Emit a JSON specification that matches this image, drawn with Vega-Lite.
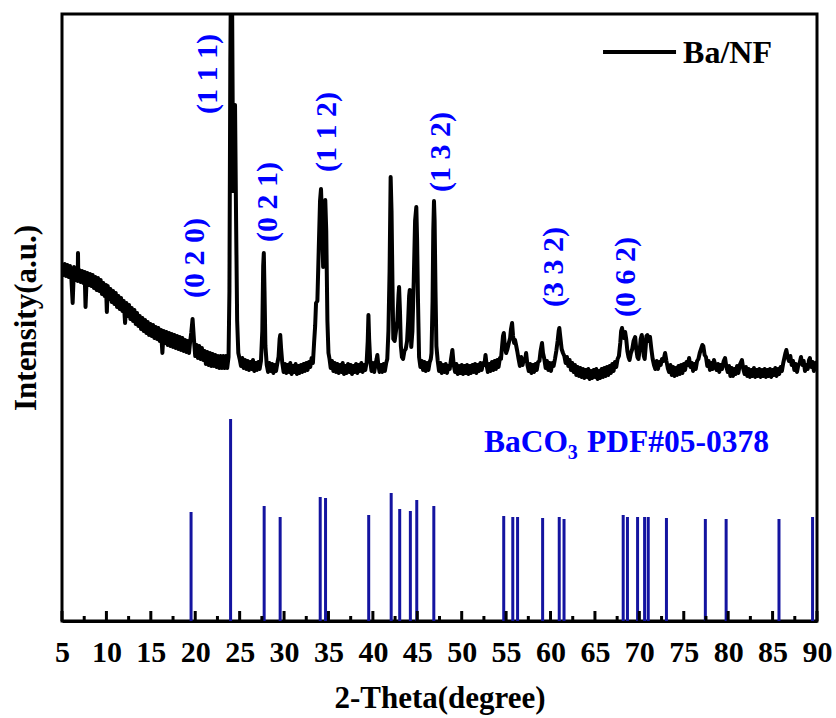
{
  "$schema": "https://vega.github.io/schema/vega-lite/v6.json",
  "width": 755,
  "height": 607,
  "autosize": {"type": "none"},
  "padding": {"left": 62, "top": 14, "right": 19, "bottom": 97},
  "background": "white",
  "config": {
    "view": {"stroke": "black", "strokeWidth": 3},
    "font": "Liberation Serif",
    "axis": {"grid": false, "domainColor": "black", "domainWidth": 3}
  },
  "datasets": {
    "curve": [
      {"x":5.0,"y":358},{"x":5.15,"y":346},{"x":5.3,"y":357},{"x":5.45,"y":345},{"x":5.6,"y":356},{"x":5.75,"y":344},{"x":5.9,"y":355},{"x":6.05,"y":343},{"x":6.2,"y":318},{"x":6.35,"y":354},{"x":6.5,"y":341},{"x":6.65,"y":352},{"x":6.77,"y":340},{"x":6.8,"y":368},{"x":6.84,"y":342},{"x":6.95,"y":351},{"x":7.1,"y":339},{"x":7.25,"y":350},{"x":7.4,"y":338},{"x":7.55,"y":349},{"x":7.65,"y":314},{"x":7.75,"y":337},{"x":7.85,"y":348},{"x":8.0,"y":336},{"x":8.15,"y":347},{"x":8.3,"y":335},{"x":8.45,"y":346},{"x":8.6,"y":333},{"x":8.75,"y":344},{"x":8.9,"y":331},{"x":9.05,"y":343},{"x":9.2,"y":330},{"x":9.35,"y":341},{"x":9.5,"y":327},{"x":9.65,"y":338},{"x":9.8,"y":325},{"x":9.95,"y":336},{"x":10.05,"y":309},{"x":10.15,"y":335},{"x":10.3,"y":322},{"x":10.45,"y":332},{"x":10.6,"y":319},{"x":10.75,"y":330},{"x":10.9,"y":317},{"x":11.05,"y":328},{"x":11.2,"y":314},{"x":11.35,"y":325},{"x":11.5,"y":312},{"x":11.65,"y":323},{"x":11.8,"y":310},{"x":11.95,"y":320},{"x":12.1,"y":298},{"x":12.25,"y":318},{"x":12.4,"y":305},{"x":12.55,"y":316},{"x":12.7,"y":302},{"x":12.85,"y":313},{"x":13.0,"y":300},{"x":13.15,"y":311},{"x":13.3,"y":297},{"x":13.45,"y":308},{"x":13.6,"y":295},{"x":13.75,"y":305},{"x":13.9,"y":292},{"x":14.05,"y":303},{"x":14.2,"y":290},{"x":14.35,"y":301},{"x":14.5,"y":288},{"x":14.65,"y":299},{"x":14.8,"y":286},{"x":14.95,"y":297},{"x":15.1,"y":285},{"x":15.25,"y":296},{"x":15.4,"y":283},{"x":15.55,"y":294},{"x":15.7,"y":282},{"x":15.85,"y":293},{"x":16.0,"y":280},{"x":16.15,"y":291},{"x":16.3,"y":268},{"x":16.45,"y":290},{"x":16.6,"y":278},{"x":16.75,"y":289},{"x":16.9,"y":276},{"x":17.05,"y":288},{"x":17.2,"y":275},{"x":17.35,"y":287},{"x":17.5,"y":274},{"x":17.65,"y":286},{"x":17.8,"y":273},{"x":17.95,"y":285},{"x":18.1,"y":272},{"x":18.25,"y":284},{"x":18.4,"y":271},{"x":18.55,"y":283},{"x":18.7,"y":270},{"x":18.85,"y":281},{"x":19.0,"y":269},{"x":19.15,"y":280},{"x":19.3,"y":268},{"x":19.42,"y":279},{"x":19.55,"y":288},{"x":19.7,"y":302},{"x":19.85,"y":282},{"x":20.0,"y":265},{"x":20.15,"y":276},{"x":20.3,"y":263},{"x":20.45,"y":275},{"x":20.6,"y":262},{"x":20.75,"y":273},{"x":20.9,"y":261},{"x":21.05,"y":270},{"x":21.2,"y":257},{"x":21.35,"y":269},{"x":21.5,"y":256},{"x":21.65,"y":268},{"x":21.8,"y":255},{"x":21.95,"y":267},{"x":22.1,"y":255},{"x":22.25,"y":266},{"x":22.4,"y":254},{"x":22.55,"y":265},{"x":22.7,"y":253},{"x":22.85,"y":265},{"x":23.0,"y":253},{"x":23.15,"y":265},{"x":23.3,"y":253},{"x":23.45,"y":265},{"x":23.6,"y":253},{"x":23.75,"y":264},{"x":23.85,"y":330},{"x":23.95,"y":560},{"x":24.05,"y":680},{"x":24.15,"y":620},{"x":24.27,"y":430},{"x":24.37,"y":450},{"x":24.48,"y":516},{"x":24.6,"y":400},{"x":24.72,"y":300},{"x":24.85,"y":268},{"x":25.0,"y":262},{"x":25.15,"y":255},{"x":25.3,"y":263},{"x":25.45,"y":253},{"x":25.6,"y":261},{"x":25.75,"y":252},{"x":25.9,"y":260},{"x":26.05,"y":251},{"x":26.2,"y":259},{"x":26.35,"y":252},{"x":26.5,"y":261},{"x":26.65,"y":250},{"x":26.8,"y":258},{"x":26.95,"y":251},{"x":27.1,"y":259},{"x":27.25,"y":252},{"x":27.4,"y":260},{"x":27.55,"y":290},{"x":27.65,"y":355},{"x":27.72,"y":368},{"x":27.8,"y":330},{"x":27.9,"y":275},{"x":28.05,"y":256},{"x":28.2,"y":249},{"x":28.35,"y":258},{"x":28.5,"y":250},{"x":28.65,"y":257},{"x":28.8,"y":248},{"x":28.95,"y":256},{"x":29.1,"y":250},{"x":29.25,"y":258},{"x":29.38,"y":264},{"x":29.5,"y":282},{"x":29.57,"y":286},{"x":29.67,"y":272},{"x":29.8,"y":258},{"x":29.95,"y":249},{"x":30.1,"y":257},{"x":30.25,"y":248},{"x":30.4,"y":256},{"x":30.55,"y":249},{"x":30.7,"y":258},{"x":30.85,"y":247},{"x":31.0,"y":255},{"x":31.15,"y":249},{"x":31.3,"y":257},{"x":31.45,"y":247},{"x":31.6,"y":255},{"x":31.75,"y":248},{"x":31.9,"y":256},{"x":32.05,"y":249},{"x":32.2,"y":257},{"x":32.35,"y":250},{"x":32.5,"y":258},{"x":32.65,"y":251},{"x":32.8,"y":259},{"x":32.95,"y":254},{"x":33.1,"y":263},{"x":33.25,"y":258},{"x":33.38,"y":278},{"x":33.5,"y":295},{"x":33.6,"y":318},{"x":33.75,"y":320},{"x":33.9,"y":370},{"x":34.05,"y":420},{"x":34.16,"y":432},{"x":34.28,"y":400},{"x":34.4,"y":354},{"x":34.52,"y":400},{"x":34.64,"y":421},{"x":34.75,"y":390},{"x":34.88,"y":300},{"x":35.0,"y":268},{"x":35.12,"y":262},{"x":35.25,"y":253},{"x":35.4,"y":260},{"x":35.55,"y":250},{"x":35.7,"y":258},{"x":35.85,"y":249},{"x":36.0,"y":257},{"x":36.15,"y":248},{"x":36.3,"y":256},{"x":36.45,"y":249},{"x":36.6,"y":258},{"x":36.75,"y":247},{"x":36.9,"y":255},{"x":37.05,"y":248},{"x":37.2,"y":257},{"x":37.35,"y":249},{"x":37.5,"y":256},{"x":37.65,"y":247},{"x":37.8,"y":255},{"x":37.95,"y":249},{"x":38.1,"y":257},{"x":38.25,"y":248},{"x":38.4,"y":256},{"x":38.55,"y":250},{"x":38.7,"y":258},{"x":38.85,"y":249},{"x":39.0,"y":256},{"x":39.15,"y":251},{"x":39.3,"y":259},{"x":39.42,"y":280},{"x":39.5,"y":306},{"x":39.58,"y":282},{"x":39.7,"y":260},{"x":39.85,"y":250},{"x":40.0,"y":258},{"x":40.15,"y":249},{"x":40.3,"y":257},{"x":40.42,"y":262},{"x":40.5,"y":266},{"x":40.6,"y":257},{"x":40.75,"y":249},{"x":40.9,"y":256},{"x":41.05,"y":249},{"x":41.2,"y":257},{"x":41.35,"y":250},{"x":41.5,"y":258},{"x":41.62,"y":262},{"x":41.75,"y":290},{"x":41.88,"y":350},{"x":42.0,"y":444},{"x":42.1,"y":410},{"x":42.2,"y":340},{"x":42.3,"y":282},{"x":42.45,"y":280},{"x":42.6,"y":290},{"x":42.75,"y":300},{"x":42.88,"y":325},{"x":42.95,"y":334},{"x":43.05,"y":310},{"x":43.15,"y":275},{"x":43.27,"y":264},{"x":43.4,"y":262},{"x":43.55,"y":270},{"x":43.7,"y":272},{"x":43.85,"y":280},{"x":43.97,"y":300},{"x":44.08,"y":325},{"x":44.15,"y":331},{"x":44.25,"y":300},{"x":44.32,"y":274},{"x":44.45,"y":290},{"x":44.6,"y":340},{"x":44.75,"y":400},{"x":44.89,"y":414},{"x":44.98,"y":380},{"x":45.08,"y":320},{"x":45.2,"y":264},{"x":45.35,"y":254},{"x":45.5,"y":260},{"x":45.65,"y":251},{"x":45.8,"y":259},{"x":45.95,"y":250},{"x":46.1,"y":258},{"x":46.25,"y":251},{"x":46.4,"y":259},{"x":46.52,"y":262},{"x":46.6,"y":268},{"x":46.72,"y":320},{"x":46.8,"y":390},{"x":46.88,"y":420},{"x":46.95,"y":400},{"x":47.05,"y":330},{"x":47.15,"y":275},{"x":47.3,"y":260},{"x":47.45,"y":250},{"x":47.6,"y":258},{"x":47.75,"y":248},{"x":47.9,"y":256},{"x":48.05,"y":249},{"x":48.2,"y":257},{"x":48.35,"y":248},{"x":48.5,"y":255},{"x":48.65,"y":252},{"x":48.8,"y":262},{"x":48.95,"y":271},{"x":49.1,"y":256},{"x":49.25,"y":249},{"x":49.4,"y":257},{"x":49.55,"y":247},{"x":49.7,"y":255},{"x":49.85,"y":248},{"x":50.0,"y":256},{"x":50.15,"y":247},{"x":50.3,"y":255},{"x":50.45,"y":248},{"x":50.6,"y":256},{"x":50.75,"y":247},{"x":50.9,"y":255},{"x":51.05,"y":248},{"x":51.2,"y":256},{"x":51.35,"y":249},{"x":51.5,"y":257},{"x":51.65,"y":248},{"x":51.8,"y":256},{"x":51.95,"y":250},{"x":52.1,"y":258},{"x":52.25,"y":251},{"x":52.4,"y":258},{"x":52.55,"y":256},{"x":52.68,"y":266},{"x":52.82,"y":255},{"x":52.95,"y":249},{"x":53.1,"y":257},{"x":53.25,"y":250},{"x":53.4,"y":259},{"x":53.55,"y":251},{"x":53.7,"y":260},{"x":53.85,"y":252},{"x":54.0,"y":261},{"x":54.15,"y":254},{"x":54.3,"y":263},{"x":54.42,"y":262},{"x":54.55,"y":275},{"x":54.65,"y":285},{"x":54.74,"y":288},{"x":54.85,"y":275},{"x":55.0,"y":268},{"x":55.15,"y":272},{"x":55.3,"y":278},{"x":55.45,"y":283},{"x":55.55,"y":292},{"x":55.67,"y":298},{"x":55.78,"y":285},{"x":55.9,"y":278},{"x":56.0,"y":281},{"x":56.12,"y":276},{"x":56.25,"y":270},{"x":56.4,"y":262},{"x":56.55,"y":255},{"x":56.7,"y":264},{"x":56.85,"y":256},{"x":57.0,"y":262},{"x":57.12,"y":260},{"x":57.25,"y":268},{"x":57.4,"y":256},{"x":57.55,"y":250},{"x":57.7,"y":257},{"x":57.85,"y":248},{"x":58.0,"y":256},{"x":58.15,"y":249},{"x":58.3,"y":257},{"x":58.45,"y":251},{"x":58.6,"y":259},{"x":58.75,"y":260},{"x":58.88,"y":270},{"x":59.04,"y":278},{"x":59.15,"y":268},{"x":59.3,"y":262},{"x":59.45,"y":253},{"x":59.6,"y":260},{"x":59.75,"y":251},{"x":59.9,"y":258},{"x":60.05,"y":250},{"x":60.2,"y":258},{"x":60.35,"y":255},{"x":60.5,"y":262},{"x":60.65,"y":270},{"x":60.8,"y":280},{"x":60.92,"y":290},{"x":60.99,"y":293},{"x":61.1,"y":284},{"x":61.25,"y":272},{"x":61.4,"y":268},{"x":61.55,"y":265},{"x":61.7,"y":258},{"x":61.85,"y":264},{"x":62.0,"y":255},{"x":62.15,"y":261},{"x":62.3,"y":251},{"x":62.45,"y":258},{"x":62.6,"y":249},{"x":62.75,"y":256},{"x":62.9,"y":246},{"x":63.05,"y":254},{"x":63.2,"y":245},{"x":63.35,"y":253},{"x":63.5,"y":244},{"x":63.65,"y":252},{"x":63.8,"y":243},{"x":63.95,"y":251},{"x":64.1,"y":244},{"x":64.25,"y":252},{"x":64.4,"y":242},{"x":64.55,"y":250},{"x":64.7,"y":243},{"x":64.85,"y":251},{"x":65.0,"y":244},{"x":65.15,"y":252},{"x":65.3,"y":242},{"x":65.45,"y":250},{"x":65.6,"y":243},{"x":65.75,"y":252},{"x":65.9,"y":244},{"x":66.05,"y":253},{"x":66.2,"y":245},{"x":66.35,"y":254},{"x":66.5,"y":246},{"x":66.65,"y":255},{"x":66.8,"y":248},{"x":66.95,"y":257},{"x":67.1,"y":250},{"x":67.25,"y":259},{"x":67.4,"y":254},{"x":67.55,"y":262},{"x":67.7,"y":265},{"x":67.85,"y":278},{"x":67.95,"y":290},{"x":68.05,"y":293},{"x":68.15,"y":288},{"x":68.28,"y":283},{"x":68.4,"y":289},{"x":68.52,"y":282},{"x":68.65,"y":270},{"x":68.78,"y":264},{"x":68.9,"y":261},{"x":69.05,"y":268},{"x":69.2,"y":272},{"x":69.35,"y":280},{"x":69.53,"y":284},{"x":69.65,"y":272},{"x":69.78,"y":264},{"x":69.9,"y":262},{"x":70.05,"y":272},{"x":70.15,"y":282},{"x":70.27,"y":286},{"x":70.4,"y":278},{"x":70.5,"y":265},{"x":70.6,"y":262},{"x":70.72,"y":275},{"x":70.8,"y":285},{"x":70.9,"y":286},{"x":71.05,"y":280},{"x":71.2,"y":284},{"x":71.35,"y":272},{"x":71.5,"y":262},{"x":71.65,"y":256},{"x":71.8,"y":252},{"x":71.95,"y":260},{"x":72.1,"y":252},{"x":72.25,"y":259},{"x":72.4,"y":256},{"x":72.55,"y":262},{"x":72.7,"y":260},{"x":72.9,"y":268},{"x":73.05,"y":260},{"x":73.2,"y":253},{"x":73.35,"y":249},{"x":73.5,"y":256},{"x":73.65,"y":246},{"x":73.8,"y":254},{"x":73.95,"y":245},{"x":74.1,"y":253},{"x":74.25,"y":246},{"x":74.4,"y":255},{"x":74.55,"y":247},{"x":74.7,"y":256},{"x":74.85,"y":248},{"x":75.0,"y":257},{"x":75.15,"y":251},{"x":75.3,"y":259},{"x":75.45,"y":256},{"x":75.6,"y":263},{"x":75.75,"y":254},{"x":75.9,"y":258},{"x":76.05,"y":250},{"x":76.2,"y":257},{"x":76.35,"y":252},{"x":76.5,"y":260},{"x":76.65,"y":262},{"x":76.8,"y":268},{"x":76.95,"y":272},{"x":77.1,"y":276},{"x":77.2,"y":275},{"x":77.35,"y":266},{"x":77.5,"y":264},{"x":77.65,"y":255},{"x":77.8,"y":260},{"x":77.95,"y":251},{"x":78.1,"y":258},{"x":78.25,"y":252},{"x":78.4,"y":261},{"x":78.55,"y":256},{"x":78.7,"y":251},{"x":78.85,"y":257},{"x":79.0,"y":249},{"x":79.15,"y":256},{"x":79.3,"y":252},{"x":79.5,"y":260},{"x":79.65,"y":263},{"x":79.8,"y":254},{"x":79.95,"y":249},{"x":80.1,"y":255},{"x":80.25,"y":245},{"x":80.4,"y":253},{"x":80.55,"y":245},{"x":80.7,"y":252},{"x":80.85,"y":247},{"x":81.0,"y":255},{"x":81.15,"y":248},{"x":81.3,"y":256},{"x":81.45,"y":259},{"x":81.55,"y":261},{"x":81.7,"y":252},{"x":81.85,"y":247},{"x":82.0,"y":254},{"x":82.15,"y":245},{"x":82.3,"y":252},{"x":82.45,"y":244},{"x":82.6,"y":251},{"x":82.75,"y":245},{"x":82.9,"y":253},{"x":83.05,"y":244},{"x":83.2,"y":251},{"x":83.35,"y":245},{"x":83.5,"y":252},{"x":83.65,"y":244},{"x":83.8,"y":251},{"x":83.95,"y":245},{"x":84.1,"y":252},{"x":84.25,"y":244},{"x":84.4,"y":251},{"x":84.55,"y":245},{"x":84.7,"y":252},{"x":84.85,"y":244},{"x":85.0,"y":251},{"x":85.15,"y":246},{"x":85.3,"y":253},{"x":85.45,"y":245},{"x":85.6,"y":252},{"x":85.75,"y":247},{"x":85.9,"y":254},{"x":86.05,"y":250},{"x":86.2,"y":258},{"x":86.3,"y":262},{"x":86.45,"y":268},{"x":86.55,"y":271},{"x":86.7,"y":264},{"x":86.85,"y":260},{"x":87.0,"y":265},{"x":87.15,"y":256},{"x":87.3,"y":260},{"x":87.45,"y":251},{"x":87.6,"y":257},{"x":87.75,"y":249},{"x":87.9,"y":256},{"x":88.05,"y":258},{"x":88.2,"y":264},{"x":88.35,"y":256},{"x":88.5,"y":260},{"x":88.65,"y":250},{"x":88.8,"y":256},{"x":88.95,"y":252},{"x":89.1,"y":261},{"x":89.2,"y":263},{"x":89.35,"y":254},{"x":89.5,"y":259},{"x":89.65,"y":250},{"x":89.8,"y":258},{"x":89.9,"y":254},{"x":90.0,"y":260}
    ],
    "sticks": [
      {"x":19.53,"h":109},{"x":23.98,"h":202},{"x":27.76,"h":115},{"x":29.56,"h":104},{"x":34.07,"h":124},{"x":34.67,"h":123},{"x":39.53,"h":106},{"x":42.06,"h":128},{"x":43.02,"h":112},{"x":44.22,"h":110},{"x":44.94,"h":121},{"x":46.86,"h":115},{"x":54.73,"h":105},{"x":55.75,"h":104},{"x":56.29,"h":104},{"x":59.11,"h":103},{"x":60.98,"h":104},{"x":61.52,"h":102},{"x":68.18,"h":106},{"x":68.66,"h":104},{"x":69.8,"h":104},{"x":70.59,"h":104},{"x":71.0,"h":104},{"x":73.05,"h":103},{"x":77.43,"h":102},{"x":79.77,"h":102},{"x":85.72,"h":102},{"x":89.5,"h":104}
    ],
    "major": [
      {"x":5},{"x":10},{"x":15},{"x":20},{"x":25},{"x":30},{"x":35},{"x":40},{"x":45},{"x":50},{"x":55},{"x":60},{"x":65},{"x":70},{"x":75},{"x":80},{"x":85},{"x":90}
    ],
    "minor": [
      {"x":7.5},{"x":12.5},{"x":17.5},{"x":22.5},{"x":27.5},{"x":32.5},{"x":37.5},{"x":42.5},{"x":47.5},{"x":52.5},{"x":57.5},{"x":62.5},{"x":67.5},{"x":72.5},{"x":77.5},{"x":82.5},{"x":87.5}
    ],
    "hkl": [
      {"x":19.97,"y":363,"label":"(0 2 0)"},
      {"x":21.44,"y":547,"label":"(1 1 1)"},
      {"x":28.19,"y":419,"label":"(0 2 1)"},
      {"x":34.84,"y":489,"label":"(1 1 2)"},
      {"x":47.67,"y":469,"label":"(1 3 2)"},
      {"x":60.39,"y":354,"label":"(3 3 2)"},
      {"x":68.5,"y":344,"label":"(0 6 2)"}
    ],
    "legendLine": [{"x":65.91,"x2":74.13,"y":569}],
    "legendText": [{"x":74.92,"y":558,"label":"Ba/NF"}],
    "refText": [{"x":52.51,"y":169,"label":"BaCO"},{"x":64.11,"y":169,"label":"PDF#05-0378"}],
    "refSub": [{"x":61.95,"y":162,"label":"3"}]
  },
  "layer": [
    {
      "data": {"name": "sticks"},
      "mark": {"type": "rule", "color": "#1414a0", "strokeWidth": 3},
      "encoding": {
        "x": {"field": "x", "type": "quantitative", "scale": {"domain": [5, 90], "nice": false, "zero": false},
          "axis": {"title": "2-Theta(degree)", "values": [5,10,15,20,25,30,35,40,45,50,55,60,65,70,75,80,85,90],
            "ticks": false, "labelFlush": false, "labelOverlap": false,
            "labelFont": "Liberation Serif", "labelFontWeight": "bold", "labelFontSize": 30, "labelColor": "black", "labelPadding": 16,
            "titleFont": "Liberation Serif", "titleFontWeight": "bold", "titleFontSize": 31, "titleColor": "black", "titlePadding": 16}},
        "y": {"field": "h", "type": "quantitative", "scale": {"domain": [0, 607], "nice": false},
          "axis": {"title": "Intensity(a.u.)", "labels": false, "ticks": false, "domain": false,
            "titleFont": "Liberation Serif", "titleFontWeight": "bold", "titleFontSize": 31, "titleColor": "black", "titlePadding": 20}},
        "y2": {"datum": 0}
      }
    },
    {
      "data": {"name": "major"},
      "mark": {"type": "rule", "color": "black", "strokeWidth": 3},
      "encoding": {
        "x": {"field": "x", "type": "quantitative"},
        "y": {"datum": 0},
        "y2": {"datum": 10}
      }
    },
    {
      "data": {"name": "minor"},
      "mark": {"type": "rule", "color": "black", "strokeWidth": 3},
      "encoding": {
        "x": {"field": "x", "type": "quantitative"},
        "y": {"datum": 0},
        "y2": {"datum": 5}
      }
    },
    {
      "data": {"name": "curve"},
      "mark": {"type": "line", "color": "black", "strokeWidth": 4, "strokeJoin": "round", "clip": true},
      "encoding": {
        "x": {"field": "x", "type": "quantitative"},
        "y": {"field": "y", "type": "quantitative"}
      }
    },
    {
      "data": {"name": "hkl"},
      "mark": {"type": "text", "angle": 270, "align": "center", "baseline": "middle", "font": "Liberation Serif", "fontWeight": "bold", "fontSize": 30, "color": "#0000ff"},
      "encoding": {
        "x": {"field": "x", "type": "quantitative"},
        "y": {"field": "y", "type": "quantitative"},
        "text": {"field": "label"}
      }
    },
    {
      "data": {"name": "legendLine"},
      "mark": {"type": "rule", "color": "black", "strokeWidth": 4},
      "encoding": {
        "x": {"field": "x", "type": "quantitative"},
        "x2": {"field": "x2"},
        "y": {"field": "y", "type": "quantitative"}
      }
    },
    {
      "data": {"name": "legendText"},
      "mark": {"type": "text", "align": "left", "baseline": "alphabetic", "font": "Liberation Serif", "fontWeight": "bold", "fontSize": 32, "color": "black"},
      "encoding": {
        "x": {"field": "x", "type": "quantitative"},
        "y": {"field": "y", "type": "quantitative"},
        "text": {"field": "label"}
      }
    },
    {
      "data": {"name": "refText"},
      "mark": {"type": "text", "align": "left", "baseline": "alphabetic", "font": "Liberation Serif", "fontWeight": "bold", "fontSize": 31.5, "color": "#0000ff"},
      "encoding": {
        "x": {"field": "x", "type": "quantitative"},
        "y": {"field": "y", "type": "quantitative"},
        "text": {"field": "label"}
      }
    },
    {
      "data": {"name": "refSub"},
      "mark": {"type": "text", "align": "left", "baseline": "alphabetic", "font": "Liberation Serif", "fontWeight": "bold", "fontSize": 20, "color": "#0000ff"},
      "encoding": {
        "x": {"field": "x", "type": "quantitative"},
        "y": {"field": "y", "type": "quantitative"},
        "text": {"field": "label"}
      }
    }
  ]
}
